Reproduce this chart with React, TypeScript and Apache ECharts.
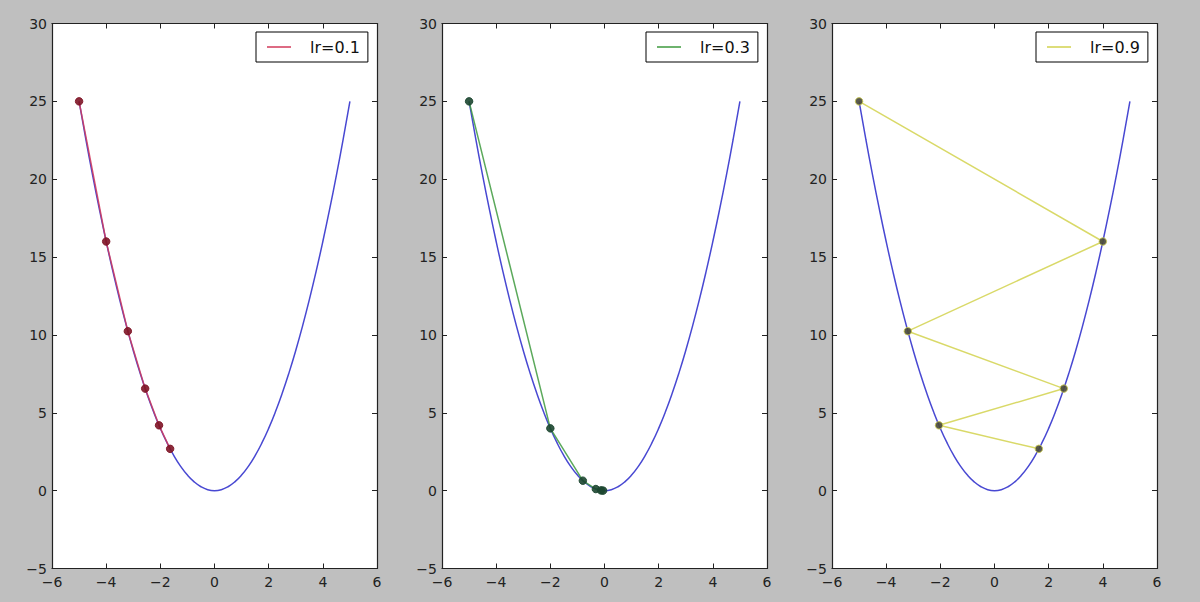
import React, { useEffect, useRef } from "react";
import * as echarts from "echarts";

// Objective curve y = x^2, sampled values
const curveX = [-5, -4.75, -4.5, -4.25, -4, -3.75, -3.5, -3.25, -3, -2.75, -2.5, -2.25, -2, -1.75, -1.5, -1.25, -1, -0.75, -0.5, -0.25, 0, 0.25, 0.5, 0.75, 1, 1.25, 1.5, 1.75, 2, 2.25, 2.5, 2.75, 3, 3.25, 3.5, 3.75, 4, 4.25, 4.5, 4.75, 5];
const curveY = [25, 22.5625, 20.25, 18.0625, 16, 14.0625, 12.25, 10.5625, 9, 7.5625, 6.25, 5.0625, 4, 3.0625, 2.25, 1.5625, 1, 0.5625, 0.25, 0.0625, 0, 0.0625, 0.25, 0.5625, 1, 1.5625, 2.25, 3.0625, 4, 5.0625, 6.25, 7.5625, 9, 10.5625, 12.25, 14.0625, 16, 18.0625, 20.25, 22.5625, 25];

// Gradient-descent paths
const lr01X = [-5, -4, -3.2, -2.56, -2.048, -1.6384];
const lr01Y = [25, 16, 10.24, 6.5536, 4.1943, 2.6844];
const lr03X = [-5, -2, -0.8, -0.32, -0.128, -0.0512];
const lr03Y = [25, 4, 0.64, 0.1024, 0.0164, 0.0026];
const lr09X = [-5, 4, -3.2, 2.56, -2.048, 1.6384];
const lr09Y = [25, 16, 10.24, 6.5536, 4.1943, 2.6844];

const legendNames = ["lr=0.1", "lr=0.3", "lr=0.9"];
const xTickMin = -6, xTickMax = 6, xTickStep = 2;
const yTickMin = -5, yTickMax = 30, yTickStep = 5;

const zip = (xs: number[], ys: number[]) => xs.map((x, i) => [x, ys[i]]);

export default function App() {
  const ref = useRef<HTMLDivElement>(null);
  useEffect(() => {
    const chart = echarts.init(ref.current!, null, { renderer: "svg" });
    const font = "DejaVu Sans";
    const lefts = [52, 442, 832];
    const gW = 325, gTop = 23.5, gH = 545;
    const pathsX = [lr01X, lr03X, lr09X];
    const pathsY = [lr01Y, lr03Y, lr09Y];
    const lineColors = ["#d23a5a", "#3e9a3e", "#d2d24e"];
    const markerFill = ["#7e1426", "#1c4630", "#48483a"];
    const markerBorder = ["#7e1426", "#1c4630", "#c8c850"];
    const minus = (v: number) => String(v).replace("-", "\u2212");

    const grids: any[] = [];
    const xAxes: any[] = [];
    const yAxes: any[] = [];
    const series: any[] = [];
    const legends: any[] = [];
    const axisLine = { show: true, onZero: false, lineStyle: { color: "#222", width: 1.2 } };
    const tick = { show: true, inside: true, length: 5, lineStyle: { color: "#222", width: 1 } };
    const labelStyle = { color: "#222", fontSize: 14, fontFamily: font, formatter: minus };

    for (let p = 0; p < 3; p++) {
      grids.push({ left: lefts[p], top: gTop, width: gW, height: gH, show: true, backgroundColor: "#ffffff", borderWidth: 0 });
      const xb = { type: "value", gridIndex: p, min: xTickMin, max: xTickMax, interval: xTickStep, splitLine: { show: false }, axisLine, axisTick: tick };
      xAxes.push({ ...xb, position: "bottom", axisLabel: { ...labelStyle, margin: 6 } });
      xAxes.push({ ...xb, position: "top", axisLabel: { show: false } });
      const yb = { type: "value", gridIndex: p, min: yTickMin, max: yTickMax, interval: yTickStep, splitLine: { show: false }, axisLine, axisTick: tick };
      yAxes.push({ ...yb, position: "left", axisLabel: { ...labelStyle, margin: 5 } });
      yAxes.push({ ...yb, position: "right", axisLabel: { show: false } });

      series.push({
        type: "line", name: "curve" + p, xAxisIndex: 2 * p, yAxisIndex: 2 * p,
        data: zip(curveX, curveY), symbol: "none", smooth: true,
        lineStyle: { color: "#4848d2", width: 1.5 }, z: 2,
      });
      series.push({
        type: "line", name: legendNames[p], xAxisIndex: 2 * p, yAxisIndex: 2 * p,
        data: zip(pathsX[p], pathsY[p]), symbol: "none",
        color: lineColors[p],
        lineStyle: { color: lineColors[p], width: 1.5, opacity: 0.85 }, z: 3,
      });
      series.push({
        type: "scatter", name: "pts" + p, xAxisIndex: 2 * p, yAxisIndex: 2 * p,
        data: zip(pathsX[p], pathsY[p]), symbol: "circle", symbolSize: 7.5,
        itemStyle: { color: markerFill[p], borderColor: markerBorder[p], borderWidth: 1, opacity: 0.9 }, z: 4,
      });
      legends.push({
        data: [{ name: legendNames[p], icon: "rect" }], left: lefts[p] + 204, top: 32,
        orient: "horizontal", itemWidth: 24, itemHeight: 1.5,
        padding: [6, 8, 6, 11], borderColor: "#000", borderWidth: 1, borderRadius: 0,
        backgroundColor: "#ffffff",
        itemStyle: { color: lineColors[p], borderWidth: 0 },
        textStyle: { fontSize: 16, color: "#111", fontFamily: font, padding: [0, 0, 0, 14], lineHeight: 18 },
      });
    }

    chart.setOption({
      animation: false,
      backgroundColor: "#bfbfbf",
      textStyle: { fontFamily: font },
      grid: grids,
      xAxis: xAxes,
      yAxis: yAxes,
      legend: legends,
      series,
    });
    return () => chart.dispose();
  }, []);
  return <div ref={ref} style={{ position: "fixed", left: 0, top: 0, width: 1200, height: 602 }} />;
}
